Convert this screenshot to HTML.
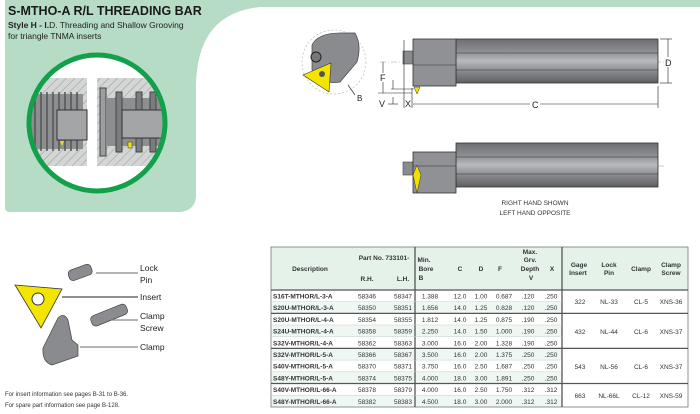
<!DOCTYPE html>
<html><head><meta charset="utf-8"><style>
body{margin:0;width:700px;height:414px;overflow:hidden;background:#fff;font-family:"Liberation Sans",sans-serif}
svg{position:absolute;left:0;top:0}
</style></head><body>
<svg width="700" height="414" viewBox="0 0 700 414" font-family="Liberation Sans, sans-serif">
<defs>
<pattern id="h" width="6" height="6" patternUnits="userSpaceOnUse" patternTransform="rotate(45)"><rect width="6" height="6" fill="#d4d6d6"/><line x1="0" y1="0" x2="0" y2="6" stroke="#9a9d9d" stroke-width="1"/></pattern>
<linearGradient id="bar" x1="0" y1="0" x2="0" y2="1"><stop offset="0" stop-color="#6e6f72"/><stop offset="0.3" stop-color="#8f9094"/><stop offset="0.5" stop-color="#b9babd"/><stop offset="0.7" stop-color="#8f9094"/><stop offset="1" stop-color="#5e5f62"/></linearGradient>
</defs>
<!-- green background -->
<path d="M0 0 H700 V7 H260 C215 12 196 40 196 90 V195 C196 207 188 212 178 212 H10 C6 212 5 210 5 206 V0 Z" fill="#b6dcc5"/>
<text x="8" y="15" font-size="12.5" font-weight="bold" fill="#1a1a1a">S-MTHO-A R/L THREADING BAR</text>
<text x="8" y="28" font-size="8.5" fill="#222"><tspan font-weight="bold">Style H - I.</tspan>D. Threading and Shallow Grooving</text>
<text x="8" y="39" font-size="8.5" fill="#222">for triangle TNMA inserts</text>
<!-- circle detail -->
<circle cx="97" cy="123" r="68" fill="#fff"/>
<clipPath id="cc"><circle cx="97" cy="123" r="67"/></clipPath>
<g clip-path="url(#cc)">
<rect x="25" y="78" width="62" height="88" fill="url(#h)"/>
<rect x="97" y="78" width="70" height="88" fill="url(#h)"/>
<rect x="25" y="94" width="58" height="55" fill="#8c8e90"/>
<g stroke="#555" stroke-width="1.5">
<line x1="35" y1="92" x2="35" y2="151"/><line x1="41" y1="92" x2="41" y2="151"/><line x1="47" y1="92" x2="47" y2="151"/><line x1="53" y1="92" x2="53" y2="151"/><line x1="59" y1="92" x2="59" y2="151"/><line x1="65" y1="92" x2="65" y2="151"/><line x1="71" y1="92" x2="71" y2="151"/><line x1="77" y1="92" x2="77" y2="151"/></g>
<rect x="57" y="110" width="30" height="30" fill="#a3a5a7" stroke="#333"/>
<polygon points="60,141 64,141 62,146" fill="#f2e000"/>
<rect x="100" y="88" width="6" height="68" fill="#9c9ea0" stroke="#444"/>
<rect x="106" y="98" width="62" height="48" fill="#8c8e90"/>
<rect x="116" y="92" width="6" height="60" fill="#7a7c7e" stroke="#444"/>
<rect x="136" y="92" width="6" height="60" fill="#7a7c7e" stroke="#444"/>
<rect x="150" y="92" width="6" height="60" fill="#7a7c7e" stroke="#444"/>
<rect x="122" y="110" width="45" height="28" fill="#a3a5a7" stroke="#333"/>
<rect x="128" y="142" width="4" height="6" fill="#f2e000" stroke="#333" stroke-width=".5"/>
</g>
<circle cx="97" cy="123" r="68" fill="none" stroke="#12a04a" stroke-width="5"/>
<!-- end view -->
<circle cx="334" cy="62" r="32" fill="none" stroke="#bbb" stroke-width=".7" stroke-dasharray="2,2"/>
<path d="M312 45 Q318 32 345 33 L355 33 Q362 45 357 62 L340 82 Q322 85 312 70 Z" fill="#8a8b8e" stroke="#444" stroke-width=".7"/>
<circle cx="316" cy="57" r="5" fill="#777" stroke="#222"/>
<polygon points="303,75 331,63 329,92" fill="#f4e500" stroke="#333" stroke-width=".6"/>
<circle cx="322" cy="74" r="3" fill="#555"/>
<line x1="348" y1="85" x2="355" y2="95" stroke="#333" stroke-width=".7"/>
<text x="357" y="101" font-size="8" fill="#222">B</text>
<!-- top bar -->
<line x1="380" y1="62" x2="668" y2="62" stroke="#999" stroke-width=".5" stroke-dasharray="6,2,1,2"/>
<rect x="403" y="51" width="10" height="13" fill="#8a8b8e" stroke="#444" stroke-width=".6"/>
<rect x="456" y="39" width="202" height="44" fill="url(#bar)" stroke="#333" stroke-width=".8"/>
<line x1="456" y1="53" x2="658" y2="53" stroke="#333" stroke-width=".6"/>
<line x1="456" y1="70" x2="658" y2="70" stroke="#333" stroke-width=".6"/>
<rect x="413" y="39" width="43" height="47" fill="#909194" stroke="#333" stroke-width=".8"/>
<line x1="413" y1="65" x2="456" y2="65" stroke="#333" stroke-width=".6"/>
<polygon points="414,87 420,87 417,94" fill="#f2e000" stroke="#333" stroke-width=".5"/>
<g stroke="#222" stroke-width=".6" fill="none">
<line x1="660" y1="39" x2="672" y2="39"/><line x1="660" y1="83" x2="672" y2="83"/><line x1="668" y1="39" x2="668" y2="57"/><line x1="668" y1="67" x2="668" y2="83"/>
<line x1="383" y1="62" x2="383" y2="73"/><line x1="383" y1="82" x2="383" y2="93"/><line x1="378" y1="93" x2="412" y2="93"/>
<line x1="393" y1="80" x2="393" y2="89"/><line x1="391" y1="89" x2="414" y2="89"/>
<line x1="393" y1="97" x2="393" y2="104"/><line x1="388" y1="104" x2="398" y2="104"/>
<line x1="404" y1="40" x2="404" y2="108"/><line x1="412" y1="88" x2="412" y2="108"/>
<line x1="413" y1="104" x2="530" y2="104"/><line x1="540" y1="104" x2="658" y2="104"/><line x1="658" y1="86" x2="658" y2="108"/>
</g>
<text x="665" y="66" font-size="9" fill="#222">D</text>
<text x="380" y="81" font-size="9" fill="#222">F</text>
<text x="379" y="107" font-size="9" fill="#222">V</text>
<text x="405" y="107" font-size="9" fill="#222">X</text>
<text x="532" y="108" font-size="9" fill="#222">C</text>
<!-- bottom bar -->
<line x1="405" y1="166" x2="665" y2="166" stroke="#999" stroke-width=".5" stroke-dasharray="6,2,1,2"/>
<rect x="403" y="162" width="10" height="13" fill="#8a8b8e" stroke="#444" stroke-width=".6"/>
<rect x="456" y="143" width="202" height="44" fill="url(#bar)" stroke="#333" stroke-width=".8"/>
<line x1="456" y1="157" x2="658" y2="157" stroke="#333" stroke-width=".6"/>
<line x1="456" y1="174" x2="658" y2="174" stroke="#333" stroke-width=".6"/>
<rect x="413" y="152" width="43" height="41" fill="#909194" stroke="#333" stroke-width=".8"/>
<line x1="413" y1="166" x2="456" y2="166" stroke="#333" stroke-width=".6"/>
<polygon points="417,165 421,175 417,193 413,175" fill="#f2e000" stroke="#333" stroke-width=".5"/>
<text x="535" y="205" font-size="6.5" fill="#333" text-anchor="middle">RIGHT HAND SHOWN</text>
<text x="535" y="215" font-size="6.5" fill="#333" text-anchor="middle">LEFT HAND OPPOSITE</text>
<!-- parts -->
<polygon points="15,285 62,289 41,328" fill="#f4e500" stroke="#333" stroke-width=".8"/>
<circle cx="38" cy="299" r="6" fill="#fff" stroke="#333"/>
<rect x="68" y="267" width="24" height="11" rx="4" fill="#8b8c8f" stroke="#333" stroke-width=".6" transform="rotate(-20 80 272)"/>
<rect x="90" y="310" width="38" height="11" rx="4" fill="#8b8c8f" stroke="#333" stroke-width=".6" transform="rotate(-22 108 315)"/>
<path d="M43 348 L58 318 Q64 312 68 320 L72 340 L78 345 L78 356 L52 365 Q42 362 43 348 Z" fill="#8a8b8e" stroke="#444" stroke-width=".7"/>
<g stroke="#888" stroke-width="1.2"><line x1="96" y1="273" x2="138" y2="273"/><line x1="112" y1="320" x2="138" y2="320"/><line x1="80" y1="347" x2="138" y2="347"/></g>
<line x1="62" y1="297" x2="138" y2="297" stroke="#222" stroke-width="1"/>
<g font-size="8.5" fill="#222"><text x="140" y="271">Lock</text><text x="140" y="283">Pin</text><text x="140" y="300">Insert</text><text x="140" y="319">Clamp</text><text x="140" y="331">Screw</text><text x="140" y="350">Clamp</text></g>
<text x="5" y="396" font-size="6" fill="#333">For insert information see pages B-31 to B-36.</text>
<text x="5" y="407" font-size="6" fill="#333">For spare part information see page B-128.</text>
<!-- table -->
<rect x="271" y="247" width="417" height="43" fill="#e4f2ea"/>
<g fill="#eef7f2">
<rect x="271" y="301.7" width="417" height="11.7"/><rect x="271" y="325" width="417" height="11.7"/><rect x="271" y="348.4" width="417" height="11.7"/><rect x="271" y="371.8" width="417" height="11.7"/><rect x="271" y="395.2" width="417" height="11.7"/></g>
<rect x="562" y="290" width="126" height="117" fill="#fff"/>
<rect x="271" y="247" width="417" height="160" fill="none" stroke="#777" stroke-width=".8"/>
<g stroke="#555" stroke-width="1.3"><line x1="271" y1="290" x2="688" y2="290"/><line x1="271" y1="313.4" x2="688" y2="313.4"/><line x1="271" y1="348.4" x2="688" y2="348.4"/><line x1="271" y1="383.5" x2="688" y2="383.5"/><line x1="415" y1="247" x2="415" y2="407"/><line x1="562" y1="247" x2="562" y2="407"/></g>
<g stroke="#ccc" stroke-width=".5"><line x1="271" y1="301.7" x2="562" y2="301.7"/><line x1="271" y1="325" x2="562" y2="325"/><line x1="271" y1="336.7" x2="562" y2="336.7"/><line x1="271" y1="360.1" x2="562" y2="360.1"/><line x1="271" y1="371.8" x2="562" y2="371.8"/><line x1="271" y1="395.2" x2="562" y2="395.2"/></g>
<g font-size="6.5" font-weight="bold" fill="#333" text-anchor="middle">
<text x="310" y="271">Description</text><text x="384" y="260">Part No. 733101-</text><text x="367" y="281">R.H.</text><text x="403" y="281">L.H.</text>
<text x="424" y="262">Min.</text><text x="426" y="271">Bore</text><text x="421" y="280">B</text>
<text x="460" y="271">C</text><text x="481" y="271">D</text><text x="500" y="271">F</text>
<text x="530" y="254">Max.</text><text x="530" y="262">Grv.</text><text x="530" y="271">Depth</text><text x="531" y="280">V</text><text x="552" y="271">X</text>
<text x="579" y="267">Gage</text><text x="578" y="275">Insert</text><text x="609" y="267">Lock</text><text x="609" y="275">Pin</text><text x="641" y="271">Clamp</text><text x="671" y="267">Clamp</text><text x="671" y="275">Screw</text>
</g>
<g font-size="6.5" fill="#333">
<g font-weight="bold"><text x="273" y="298.5">S16T-MTHOR/L-3-A</text><text x="273" y="310.2">S20U-MTHOR/L-3-A</text><text x="273" y="321.9">S20U-MTHOR/L-4-A</text><text x="273" y="333.6">S24U-MTHOR/L-4-A</text><text x="273" y="345.3">S32V-MTHOR/L-4-A</text><text x="273" y="357">S32V-MTHOR/L-5-A</text><text x="273" y="368.7">S40V-MTHOR/L-5-A</text><text x="273" y="380.4">S48Y-MTHOR/L-5-A</text><text x="273" y="392.1">S40V-MTHOR/L-66-A</text><text x="273" y="403.8">S48Y-MTHOR/L-66-A</text></g>
<g text-anchor="middle">
<text x="367" y="298.5">58346</text><text x="403" y="298.5">58347</text><text x="367" y="310.2">58350</text><text x="403" y="310.2">58351</text><text x="367" y="321.9">58354</text><text x="403" y="321.9">58355</text><text x="367" y="333.6">58358</text><text x="403" y="333.6">58359</text><text x="367" y="345.3">58362</text><text x="403" y="345.3">58363</text><text x="367" y="357">58366</text><text x="403" y="357">58367</text><text x="367" y="368.7">58370</text><text x="403" y="368.7">58371</text><text x="367" y="380.4">58374</text><text x="403" y="380.4">58375</text><text x="367" y="392.1">58378</text><text x="403" y="392.1">58379</text><text x="367" y="403.8">58382</text><text x="403" y="403.8">58383</text>
</g>
<g text-anchor="middle">
<text x="430" y="298.5">1.388</text><text x="460" y="298.5">12.0</text><text x="481" y="298.5">1.00</text><text x="504" y="298.5">0.687</text><text x="528" y="298.5">.120</text><text x="551" y="298.5">.250</text>
<text x="430" y="310.2">1.656</text><text x="460" y="310.2">14.0</text><text x="481" y="310.2">1.25</text><text x="504" y="310.2">0.828</text><text x="528" y="310.2">.120</text><text x="551" y="310.2">.250</text>
<text x="430" y="321.9">1.812</text><text x="460" y="321.9">14.0</text><text x="481" y="321.9">1.25</text><text x="504" y="321.9">0.875</text><text x="528" y="321.9">.190</text><text x="551" y="321.9">.250</text>
<text x="430" y="333.6">2.250</text><text x="460" y="333.6">14.0</text><text x="481" y="333.6">1.50</text><text x="504" y="333.6">1.000</text><text x="528" y="333.6">.190</text><text x="551" y="333.6">.250</text>
<text x="430" y="345.3">3.000</text><text x="460" y="345.3">16.0</text><text x="481" y="345.3">2.00</text><text x="504" y="345.3">1.328</text><text x="528" y="345.3">.190</text><text x="551" y="345.3">.250</text>
<text x="430" y="357">3.500</text><text x="460" y="357">16.0</text><text x="481" y="357">2.00</text><text x="504" y="357">1.375</text><text x="528" y="357">.250</text><text x="551" y="357">.250</text>
<text x="430" y="368.7">3.750</text><text x="460" y="368.7">16.0</text><text x="481" y="368.7">2.50</text><text x="504" y="368.7">1.687</text><text x="528" y="368.7">.250</text><text x="551" y="368.7">.250</text>
<text x="430" y="380.4">4.000</text><text x="460" y="380.4">18.0</text><text x="481" y="380.4">3.00</text><text x="504" y="380.4">1.891</text><text x="528" y="380.4">.250</text><text x="551" y="380.4">.250</text>
<text x="430" y="392.1">4.000</text><text x="460" y="392.1">16.0</text><text x="481" y="392.1">2.50</text><text x="504" y="392.1">1.750</text><text x="528" y="392.1">.312</text><text x="551" y="392.1">.312</text>
<text x="430" y="403.8">4.500</text><text x="460" y="403.8">18.0</text><text x="481" y="403.8">3.00</text><text x="504" y="403.8">2.000</text><text x="528" y="403.8">.312</text><text x="551" y="403.8">.312</text>
</g>
<g text-anchor="middle">
<text x="580" y="304">322</text><text x="609" y="304">NL-33</text><text x="641" y="304">CL-5</text><text x="671" y="304">XNS-36</text>
<text x="580" y="334">432</text><text x="609" y="334">NL-44</text><text x="641" y="334">CL-6</text><text x="671" y="334">XNS-37</text>
<text x="580" y="369">543</text><text x="609" y="369">NL-56</text><text x="641" y="369">CL-6</text><text x="671" y="369">XNS-37</text>
<text x="580" y="398">663</text><text x="609" y="398">NL-66L</text><text x="641" y="398">CL-12</text><text x="671" y="398">XNS-59</text>
</g>
</g>
</svg>
</body></html>
